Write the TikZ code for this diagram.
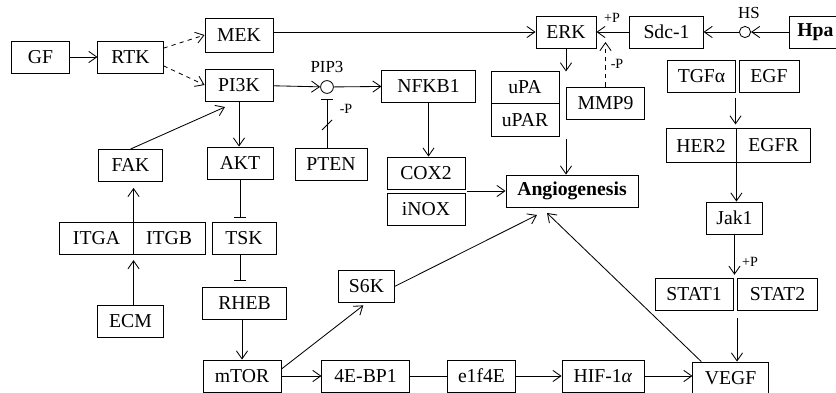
\documentclass[tikz,border=0pt]{standalone}
\usepackage{fontspec}
\setmainfont{Liberation Serif}
\usetikzlibrary{arrows.meta}

\begin{document}
\begin{tikzpicture}[x=0.025cm,y=-0.025cm,
		font=\fontsize{14}{16}\selectfont,line width=0.6pt,
		box/.style={draw,minimum height=0.8cm,inner sep=0pt},
		hub/.style={draw,circle,minimum size=0.32cm,inner sep=0pt},
		tag/.style={font=\fontsize{12}{13}\selectfont,inner sep=0pt},
		sign/.style={font=\fontsize{10}{11}\selectfont,inner sep=0pt},
		>={Straight Barb[length=2mm,width=2.8mm]},
		inh/.style={-{Bar[width=3mm]}}]
		\useasboundingbox (0,0) rectangle (836,393);

		% left column
		\node[box,minimum width=1.43cm] (gf) at (40.5,57) {GF};
		\node[box,minimum width=1.63cm] (rtk) at (130.5,57) {RTK};
		\node[box,minimum width=1.7cm,minimum height=0.85cm] (mek) at (239,35) {MEK};
		\node[box,minimum width=1.7cm] (pi3k) at (239,85) {PI3K};
		\node[box,minimum width=1.58cm] (fak) at (130.5,165.5) {FAK};
		\node[box,minimum width=1.65cm] (akt) at (240,163) {AKT};
		\node[box,minimum width=1.83cm] (itga) at (96.5,238.5) {ITGA};
		\node[box,minimum width=1.8cm] (itgb) at (169,238.5) {ITGB};
		\node[box,minimum width=1.6cm] (tsk) at (244,238.5) {TSK};
		\node[box,minimum width=2.08cm] (rheb) at (244.5,303) {RHEB};
		\node[box,minimum width=1.63cm] (ecm) at (130.5,321) {ECM};

		% middle
		\node[hub] (pip3) at (327,87) {};
		\node[tag] (pip3lbl) at (327,67) {PIP3};
		\node[box,minimum width=2.33cm] (nfkb1) at (428.5,86) {NFKB1};
		\node[box,minimum width=1.8cm] (pten) at (331,164) {PTEN};
		\node[box,minimum width=1.95cm] (cox2) at (426,173) {COX2};
		\node[box,minimum width=1.95cm] (inox) at (426,209) {iNOX};
		\node[box,minimum width=1.38cm] (s6k) at (366.5,286.5) {S6K};
		\node[box,minimum width=3.3cm,font=\fontsize{14}{16}\selectfont\bfseries] (angio) at (572,191) {Angiogenesis};
		\node[box,minimum width=1.7cm,minimum height=0.78cm] (upa) at (525,87.5) {uPA};
		\node[box,minimum width=1.7cm,minimum height=0.83cm] (upar) at (525,119.7) {uPAR};
		\node[box,minimum width=1.95cm] (mmp9) at (605.5,103) {MMP9};

		% bottom row
		\node[box,minimum width=1.95cm] (mtor) at (242,376) {mTOR};
		\node[box,minimum width=2.18cm] (bp1) at (365.5,376) {4E-BP1};
		\node[box,minimum width=1.68cm] (eif) at (481.5,376) {e1f4E};
		\node[box,minimum width=2.05cm] (hif) at (603,376) {HIF-1\textit{α}};
		\node[box,minimum width=1.88cm] (vegf) at (730.5,378) {VEGF};

		% right column
		\node[box,minimum width=1.5cm] (erk) at (566,32) {ERK};
		\node[box,minimum width=1.83cm] (sdc) at (666.5,32) {Sdc-1};
		\node[hub,minimum size=0.28cm] (hs) at (745,32) {};
		\node[tag] (hslbl) at (749,13) {HS};
		\node[box,anchor=west,inner xsep=0.2cm,font=\fontsize{14}{16}\selectfont\bfseries] (hpa) at (789,32) {Hpa};
		\node[box,minimum width=1.68cm] (tgf) at (701.5,76) {TGFα};
		\node[box,minimum width=1.5cm] (egf) at (769,76) {EGF};
		\node[box,minimum width=1.75cm,minimum height=0.83cm] (her2) at (701,145.5) {HER2};
		\node[box,minimum width=1.85cm,minimum height=0.83cm] (egfr) at (773.5,145.5) {EGFR};
		\node[box,minimum width=1.38cm] (jak1) at (734.5,218) {Jak1};
		\node[box,minimum width=1.95cm] (stat1) at (694,294) {STAT1};
		\node[box,minimum width=1.98cm] (stat2) at (777.5,294) {STAT2};

		% small signs
		\node[sign] (pplus) at (612,18) {+P};
		\node[sign] (pminus) at (617,64) {-P};
		\node[sign] (ptenp) at (346,109) {-P};
		\node[sign] (jakp) at (750,262) {+P};

		% free ends
		\coordinate (faktip) at (225,107);
		\coordinate (cut) at (327,125);
		\coordinate (angtipa) at (537,215);
		\coordinate (angtipb) at (547,213);
		\coordinate (erktip) at (605,42);
		\coordinate (statout) at (737,318);

		% edges
		\draw[->] (gf) -- (rtk);
		\draw[->,dashed] (rtk.15) -- (mek.west);
		\draw[->,dashed] (rtk.-15) -- (pi3k.west);
		\draw[->] (mek.east |- erk.west) -- (erk.west);
		\draw[->] (pi3k) -- (pip3);
		\draw[->] (pip3) -- (nfkb1);
		\draw[inh,shorten >=1.2mm] (pip3 |- pten.north) -- (pip3.south);
		\draw (cut) ++(-5,5) -- ++(10,-10);
		\draw[->] (fak.north) -- (faktip);
		\draw[->] (pi3k.south) -- (pi3k.south |- akt.north);
		\draw[inh,shorten >=1mm] (akt.south) -- (akt.south |- tsk.north);
		\draw[inh,shorten >=1.5mm] (akt.south |- tsk.south) -- (akt.south |- rheb.north);
		\draw[->] (mtor.north |- rheb.south) -- (mtor.north);
		\draw[->,shorten >=1.3mm] (ecm.north -| itga.east) -- (itga.south east);
		\draw[->,shorten >=1.5mm] (itga.north east) -- (itga.north east |- fak.south);
		\draw[->,shorten >=1mm] (mtor.10) -- (s6k.south);
		\draw[->] (mtor) -- (bp1);
		\draw[inh] (bp1) -- (eif);
		\draw[->] (eif) -- (hif);
		\draw[->] (hif.east) -- (hif.east -| vegf.west);
		\draw[->] (s6k.east) -- (angtipa);
		\draw[->] ([xshift=0.22cm]vegf.north west) -- (angtipb);
		\draw[->] (statout) -- (statout |- vegf.north);
		\draw[->,shorten >=0.7mm] (jak1.south) -- (jak1.south |- stat1.north);
		\draw[->] (her2.south east) -- (her2.south east |- jak1.north);
		\draw[->,shorten <=1.5mm,shorten >=1mm] (tgf.south east) -- (tgf.south east |- her2.north);
		\draw[->,shorten <=0.5mm] (angio.west -| cox2.east) -- (angio.west);
		\draw[->] (nfkb1.south) -- (nfkb1.south |- cox2.north);
		\draw[->] (erk.south) -- (erk.south |- upa.north);
		\draw[->,shorten <=0.5mm] (erk.south |- upar.south) -- (erk.south |- angio.north);
		\draw[->,dashed] (mmp9.north) -- (mmp9.north |- erktip);
		\draw[->] (sdc) -- (erk);
		\draw[->] (hs) -- (sdc);
		\draw[->] (hpa) -- (hs);
	\end{tikzpicture}
\end{document}
